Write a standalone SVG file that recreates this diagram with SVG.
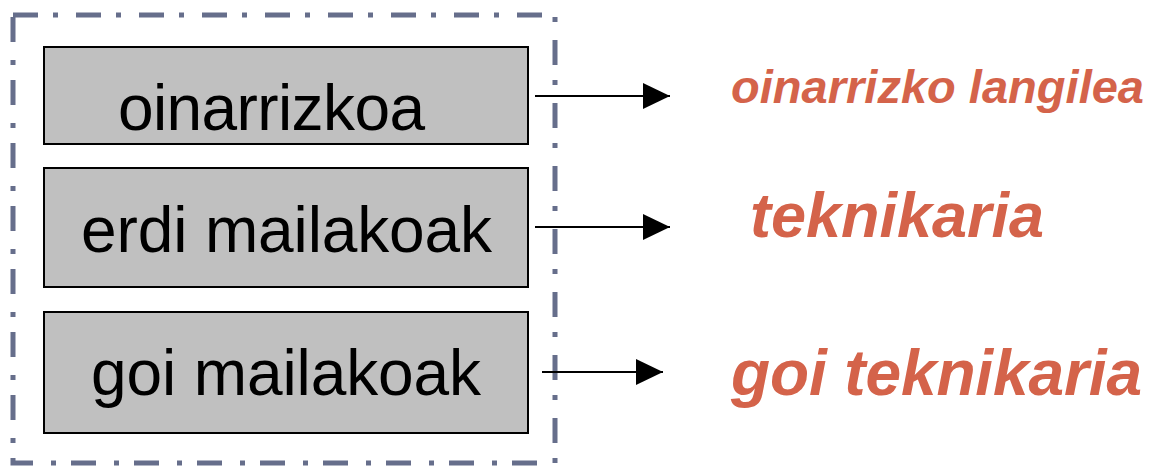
<svg xmlns="http://www.w3.org/2000/svg" width="1157" height="466" viewBox="0 0 1157 466">
<style>
.frame{fill:none;stroke:#666e8b;stroke-width:5;stroke-dasharray:25 15 5 18}
.box{fill:#c0c0c0;stroke:#000;stroke-width:2}
.lbl{font-family:"Liberation Sans",Arial,sans-serif;font-size:64px;fill:#000}
.out{font-family:"Liberation Sans",Arial,sans-serif;font-weight:bold;font-style:italic;fill:#d4634a}
.conn{stroke:#000;stroke-width:2;fill:none}
</style>
<defs>
<marker id="ah" markerUnits="userSpaceOnUse" markerWidth="28" markerHeight="26" refX="27" refY="13" orient="auto">
<path d="M0,0 L27,13 L0,26 Z" fill="#000"/>
</marker>
</defs>
<rect id="frame" class="frame" x="13" y="15" width="542" height="448"/>
<g id="node1">
<rect class="box" x="44" y="47" width="484" height="97"/>
<text class="lbl" x="118" y="130" textLength="307">oinarrizkoa</text>
</g>
<g id="node2">
<rect class="box" x="44" y="168" width="484" height="119"/>
<text class="lbl" x="81" y="252" textLength="411">erdi mailakoak</text>
</g>
<g id="node3">
<rect class="box" x="44" y="312" width="484" height="121"/>
<text class="lbl" x="91" y="395" textLength="390">goi mailakoak</text>
</g>
<g id="out1"><text class="out" x="731" y="103" font-size="47" textLength="413">oinarrizko langilea</text></g>
<g id="out2"><text class="out" x="750" y="237" font-size="63" textLength="294">teknikaria</text></g>
<g id="out3"><text class="out" x="731" y="395" font-size="64" textLength="411">goi teknikaria</text></g>
<g id="connectors">
<line class="conn" x1="535" y1="96" x2="670" y2="96" marker-end="url(#ah)"/>
<line class="conn" x1="535" y1="227" x2="670" y2="227" marker-end="url(#ah)"/>
<line class="conn" x1="542" y1="372" x2="663" y2="372" marker-end="url(#ah)"/>
</g>
</svg>
